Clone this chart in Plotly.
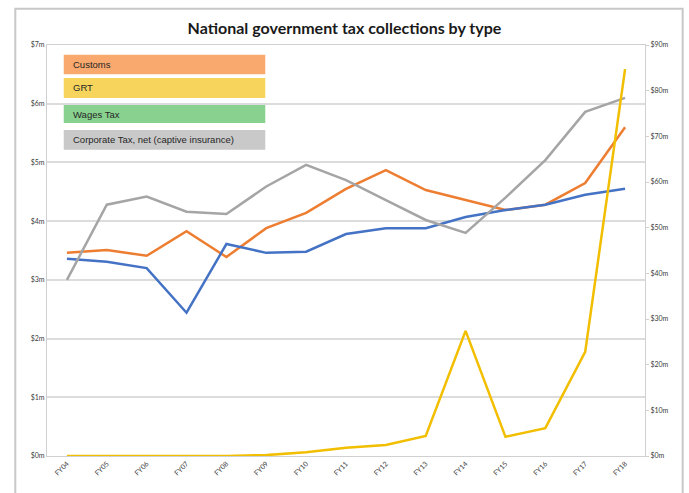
"""National government tax collections by type — recreated in Plotly."""

import plotly.graph_objects as go

_FONT = dict(family="Lato, Arial, sans-serif", size=8, color="#404040")

years = ["FY04", "FY05", "FY06", "FY07", "FY08", "FY09", "FY10", "FY11",
         "FY12", "FY13", "FY14", "FY15", "FY16", "FY17", "FY18"]

# $m, left axis
customs = [3.46, 3.51, 3.41, 3.83, 3.39, 3.88, 4.14, 4.55, 4.87, 4.53, 4.36, 4.19, 4.28, 4.65, 5.60]
wages_tax = [3.36, 3.31, 3.20, 2.44, 3.61, 3.46, 3.48, 3.78, 3.88, 3.88, 4.07, 4.19, 4.28, 4.45, 4.55]
corporate_tax = [3.00, 4.28, 4.42, 4.16, 4.12, 4.59, 4.96, 4.70, 4.36, 4.02, 3.80, 4.40, 5.04, 5.86, 6.10]

# $m, right axis
grt = [0.0, 0.0, 0.0, 0.0, 0.0, 0.2, 0.8, 1.8, 2.4, 4.4, 27.4, 4.2, 6.1, 22.8, 84.7]

legend_items = ["Customs", "GRT", "Wages Tax", "Corporate Tax, net (captive insurance)"]
legend_colors = ["#F9A86E", "#F7D55C", "#88D18E", "#C9C9C9"]

fig = go.Figure()

fig.add_trace(go.Scatter(x=years, y=customs, name="Customs", mode="lines",
                         line=dict(color="#ED7D31", width=2.5)))
fig.add_trace(go.Scatter(x=years, y=wages_tax, name="Wages Tax", mode="lines",
                         line=dict(color="#4472C4", width=2.5)))
fig.add_trace(go.Scatter(x=years, y=corporate_tax, name="Corporate Tax", mode="lines",
                         line=dict(color="#A5A5A5", width=2.5)))
fig.add_trace(go.Scatter(x=years, y=grt, name="GRT", mode="lines", yaxis="y2",
                         line=dict(color="#F2BE00", width=2.5)))

# Legend as coloured boxes with labels
box_y = [(0.929, 0.976), (0.871, 0.920), (0.810, 0.854), (0.745, 0.793)]
for label, color, (y0, y1) in zip(legend_items, legend_colors, box_y):
    fig.add_shape(type="rect", xref="paper", yref="paper", x0=0.028, x1=0.365,
                  y0=y0, y1=y1, fillcolor=color, line_width=0, layer="above")
    fig.add_annotation(xref="paper", yref="paper", x=0.040, y=(y0 + y1) / 2,
                       text=label, showarrow=False, xanchor="left", yanchor="middle",
                       font=dict(family="Arial, sans-serif", size=9.5, color="#262626"))

# Outer chart frame
fig.add_shape(type="rect", xref="paper", yref="paper",
              x0=-0.053, x1=1.063, y0=-0.2, y1=1.088,
              line=dict(color="#C8C8C8", width=2), fillcolor="rgba(0,0,0,0)")

fig.update_layout(
    title=dict(text="<b>National government tax collections by type</b>", x=0.5, y=0.943,
               xanchor="center", yanchor="middle",
               font=dict(family="Lato, Arial, sans-serif", size=16, color="#1a1a1a")),
    width=689, height=493,
    margin=dict(l=47, r=44, t=45, b=37, autoexpand=False),
    paper_bgcolor="white", plot_bgcolor="white",
    font=_FONT,
    showlegend=False,
    xaxis=dict(range=[-0.5, 14.5], tickangle=-45, showgrid=False, showline=True,
               linecolor="#D0D0D0", mirror=True, ticks="", tickfont=dict(size=7),
               automargin=False),
    yaxis=dict(range=[0, 7], dtick=1, tickprefix="$", ticksuffix="m",
               showgrid=True, gridcolor="#DCDCDC", gridwidth=1.5,
               showline=True, linecolor="#D0D0D0", zeroline=False,
               ticks="", tickfont=dict(size=7), automargin=False),
    yaxis2=dict(range=[0, 90], dtick=10, tickprefix="$", ticksuffix="m",
                overlaying="y", side="right", showgrid=False,
                showline=True, linecolor="#D0D0D0", zeroline=False,
                ticks="outside", ticklen=3, tickcolor="#D0D0D0",
                tickfont=dict(size=7), automargin=False),
)

fig.write_html("out.html", config={"displayModeBar": False},
               post_script="document.body.style.margin='0';")
